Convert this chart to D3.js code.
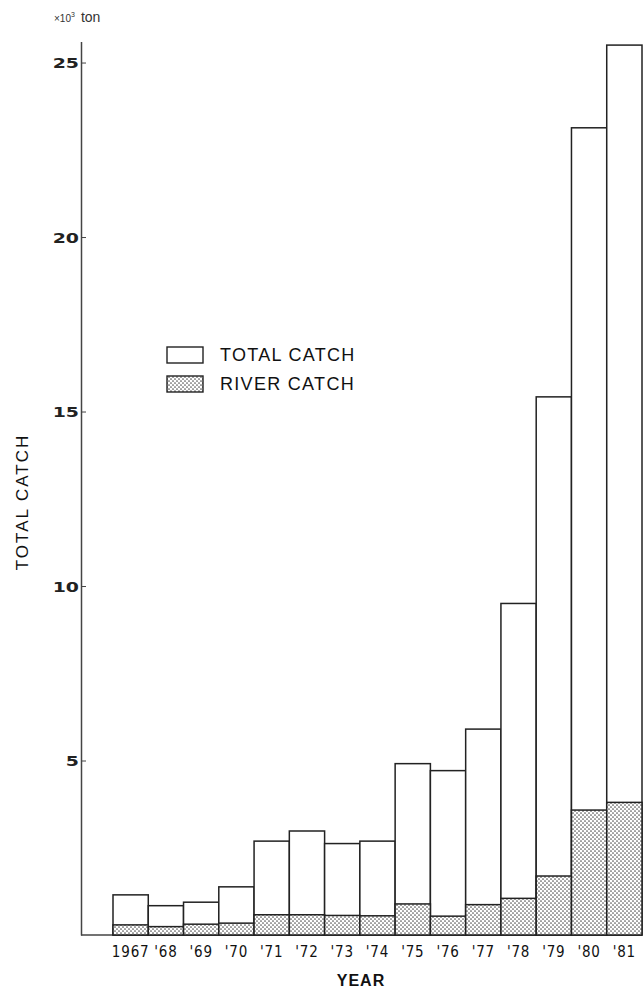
<!DOCTYPE html>
<html>
<head>
<meta charset="utf-8">
<script src="https://cdn.jsdelivr.net/npm/d3@7"></script>
<style>
  html, body { margin: 0; padding: 0; background: #fff; }
  svg { display: block; }
</style>
</head>
<body>
<div id="chart"></div>
<script>
// ---- Data ----
const years = ["1967", "'68", "'69", "'70", "'71", "'72", "'73", "'74", "'75", "'76", "'77", "'78", "'79", "'80", "'81"];
const totalCatch = [1.15, 0.84, 0.94, 1.38, 2.69, 2.98, 2.62, 2.69, 4.91, 4.71, 5.9, 9.5, 15.42, 23.13, 25.5];
const riverCatch = [0.29, 0.24, 0.31, 0.34, 0.58, 0.58, 0.56, 0.55, 0.89, 0.54, 0.87, 1.05, 1.69, 3.58, 3.8];
const yTicks = [5, 10, 15, 20, 25];
const legendLabels = ["TOTAL CATCH", "RIVER CATCH"];

const W = 644, H = 988;
const svg = d3.select("#chart").append("svg").attr("width", W).attr("height", H);

// stipple pattern
const defs = svg.append("defs");
const pat = defs.append("pattern").attr("id", "stipple")
  .attr("patternUnits", "userSpaceOnUse").attr("width", 4).attr("height", 4);
pat.append("rect").attr("width", 4).attr("height", 4).attr("fill", "#fff");
pat.append("circle").attr("cx", 1).attr("cy", 1).attr("r", 0.85).attr("fill", "#555");
pat.append("circle").attr("cx", 3).attr("cy", 3).attr("r", 0.85).attr("fill", "#555");

const x = d3.scaleBand().domain(years).range([113, 642]).padding(0);
const y = d3.scaleLinear().domain([0, 25.6]).range([935, 41.6]);
const axisX = 81;

// baseline
svg.append("line").attr("x1", axisX).attr("x2", 642).attr("y1", y(0)).attr("y2", y(0))
  .attr("stroke", "#444").attr("stroke-width", 1.3);

// total bars
svg.append("g").selectAll("rect").data(years).join("rect")
  .attr("x", d => x(d)).attr("width", x.bandwidth())
  .attr("y", (d, i) => y(totalCatch[i])).attr("height", (d, i) => y(0) - y(totalCatch[i]))
  .attr("fill", "#fff").attr("stroke", "#222").attr("stroke-width", 1.5);

// river bars
svg.append("g").selectAll("rect").data(years).join("rect")
  .attr("x", d => x(d)).attr("width", x.bandwidth())
  .attr("y", (d, i) => y(riverCatch[i])).attr("height", (d, i) => y(0) - y(riverCatch[i]))
  .attr("fill", "url(#stipple)").attr("stroke", "#222").attr("stroke-width", 1.5);

// y axis
const yAxis = svg.append("g").attr("transform", `translate(${axisX},0)`)
  .call(d3.axisRight(y).tickValues(yTicks).tickSize(5).tickSizeOuter(0));
yAxis.select(".domain").attr("stroke", "#444").attr("stroke-width", 1.5);
yAxis.selectAll(".tick line").attr("stroke", "#444").attr("stroke-width", 1);
yAxis.selectAll(".tick text")
  .attr("x", 0).attr("dy", "0.36em")
  .attr("text-anchor", "end")
  .attr("transform", "translate(-2,0) scale(1.35,1)")
  .style("font-family", "'DejaVu Sans', sans-serif")
  .style("font-weight", "600")
  .style("font-size", "14px")
  .attr("fill", "#222");

// x labels
svg.append("g").selectAll("text").data(years).join("text")
  .attr("x", d => x(d) + x.bandwidth() / 2).attr("y", 957)
  .attr("text-anchor", "middle")
  .style("font-family", "'Liberation Sans Narrow', 'DejaVu Sans Condensed', sans-serif")
  .style("font-size", "15px")
  .style("letter-spacing", "0.8px")
  .attr("fill", "#111")
  .text(d => d);

// axis titles
svg.append("text").attr("x", 361).attr("y", 986).attr("text-anchor", "middle")
  .style("font-family", "'Liberation Sans', Arial, sans-serif")
  .style("font-weight", "bold").style("font-size", "16px").style("letter-spacing", "1px")
  .attr("fill", "#111").text("YEAR");

svg.append("text").attr("transform", "translate(28,502) rotate(-90)").attr("text-anchor", "middle")
  .style("font-family", "'Liberation Sans', Arial, sans-serif")
  .style("font-size", "17px").style("letter-spacing", "2px")
  .attr("fill", "#111").text("TOTAL CATCH");

// unit label
const unit = svg.append("text").attr("x", 54).attr("y", 22)
  .style("font-family", "'Liberation Sans', Arial, sans-serif").attr("fill", "#333");
unit.append("tspan").style("font-size", "10px").text("×10");
unit.append("tspan").style("font-size", "7px").attr("dy", -5).text("3");
unit.append("tspan").style("font-size", "14px").attr("dy", 5).attr("dx", 6).text("ton");

// legend
const legend = svg.append("g");
const legendFills = ["#fff", "url(#stipple)"];
legendLabels.forEach((lab, i) => {
  const yy = 347 + i * 29;
  legend.append("rect").attr("x", 167).attr("y", yy).attr("width", 36).attr("height", 16)
    .attr("fill", legendFills[i]).attr("stroke", "#222").attr("stroke-width", 1.4);
  legend.append("text").attr("x", 220).attr("y", yy + 14)
    .style("font-family", "'Liberation Sans', Arial, sans-serif")
    .style("font-size", "18px").style("letter-spacing", "1.3px")
    .attr("fill", "#111").text(lab);
});
</script>
</body>
</html>
